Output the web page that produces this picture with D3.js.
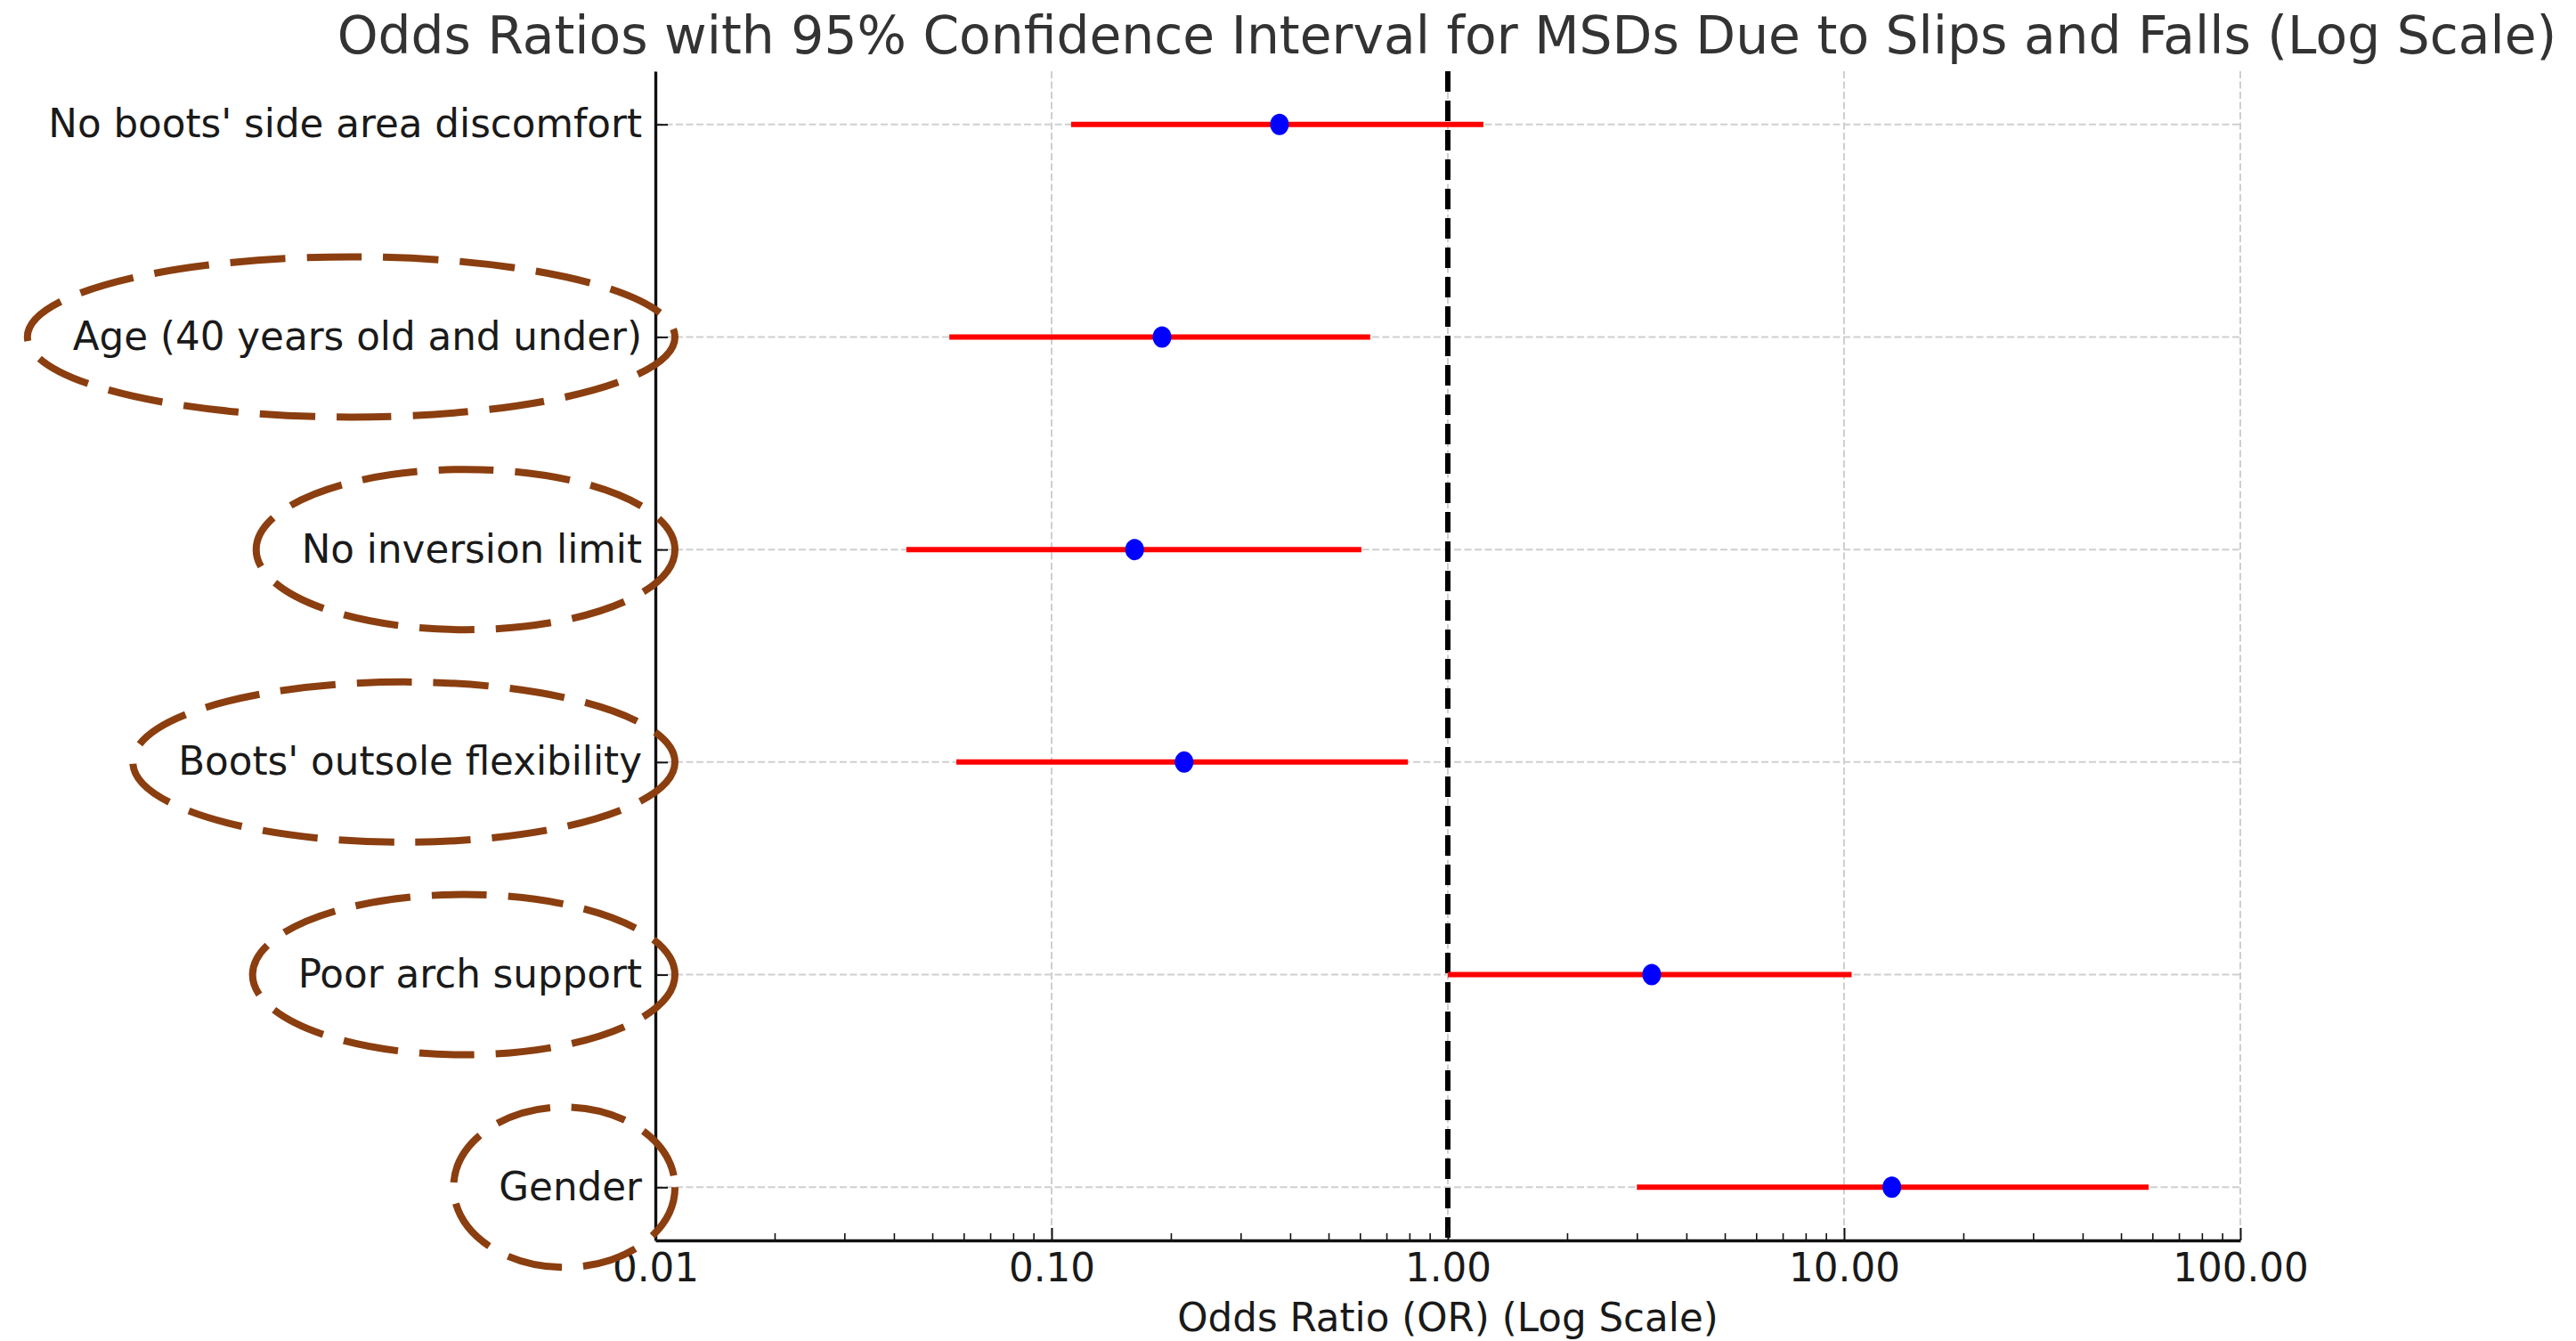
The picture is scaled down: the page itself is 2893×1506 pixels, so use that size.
<!DOCTYPE html>
<html>
<head>
<meta charset="utf-8">
<script src="https://cdn.jsdelivr.net/npm/d3@7"></script>
<style>
    body { margin: 0; background: #fff; }
    svg { display: block; font-family: "DejaVu Sans", sans-serif; }
</style>
</head>
<body>
<svg id="chart" width="2893" height="1506"></svg>
<script>
// factors, bottom row first
const factors = [
    "Gender",
    "Poor arch support",
    "Boots' outsole flexibility",
    "No inversion limit",
    "Age (40 years old and under)",
    "No boots' side area discomfort"
];
const oddsRatios = [13.2, 3.27, 0.216, 0.162, 0.190, 0.376];
const ciLower = [3.0, 1.0, 0.0575, 0.043, 0.0552, 0.112];
const ciUpper = [58.7, 10.45, 0.793, 0.605, 0.637, 1.23];

const xTicks = [0.01, 0.1, 1, 10, 100];
// factors circled on the figure
const circled = ["Gender", "Poor arch support", "Boots' outsole flexibility", "No inversion limit", "Age (40 years old and under)"];

const svg = d3.select("#chart");
const W = +svg.attr("width"), H = +svg.attr("height");
const margin = {top: 80, right: 377, bottom: 113, left: 736};
const width = W - margin.left - margin.right,
      height = H - margin.top - margin.bottom;

svg.append("rect").attr("width", W).attr("height", H).attr("fill", "#fff");

const g = svg.append("g").attr("transform", `translate(${margin.left},${margin.top})`);

const x = d3.scaleLog().domain([0.01, 100]).range([0, width]);
const y = d3.scalePoint().domain(factors).range([height, 0]).padding(0.25);

// minor tick values 2..9 per decade
const minorTicks = [];
for (let p = -2; p < 2; p++) for (let k = 2; k <= 9; k++) minorTicks.push(k * Math.pow(10, p));

// grid
g.append("g").selectAll("line").data(xTicks).join("line")
    .attr("x1", d => x(d)).attr("x2", d => x(d))
    .attr("y1", 0).attr("y2", height)
    .attr("stroke", "#cfcfcf").attr("stroke-width", 2).attr("stroke-dasharray", "8,3.5");
g.append("g").selectAll("line").data(factors).join("line")
    .attr("x1", 0).attr("x2", width)
    .attr("y1", d => y(d)).attr("y2", d => y(d))
    .attr("stroke", "#cfcfcf").attr("stroke-width", 2).attr("stroke-dasharray", "8,3.5");

// OR = 1 reference
g.append("line")
    .attr("x1", x(1)).attr("x2", x(1))
    .attr("y1", 0).attr("y2", height)
    .attr("stroke", "#000").attr("stroke-width", 6).attr("stroke-dasharray", "23,10");

// confidence intervals
g.append("g").selectAll("line").data(factors).join("line")
    .attr("x1", (d, i) => x(ciLower[i])).attr("x2", (d, i) => x(ciUpper[i]))
    .attr("y1", d => y(d)).attr("y2", d => y(d))
    .attr("stroke", "red").attr("stroke-width", 6);

g.append("g").selectAll("ellipse").data(factors).join("ellipse")
    .attr("cx", (d, i) => x(oddsRatios[i])).attr("cy", d => y(d))
    .attr("rx", 10.5).attr("ry", 12)
    .attr("fill", "blue");

// axes
const styleAxis = sel => {
    sel.select(".domain").attr("stroke", "#111").attr("stroke-width", 3.4);
    sel.selectAll(".tick line").attr("stroke", "#111").attr("stroke-width", 2);
    sel.selectAll(".tick text").attr("fill", "#1a1a1a").attr("font-size", 43.6)
        .attr("font-family", "DejaVu Sans");
};

g.append("g")
    .attr("transform", `translate(0,${height})`)
    .call(d3.axisBottom(x).tickValues(minorTicks).tickSize(-8).tickSizeOuter(0).tickFormat(""))
    .call(sel => sel.select(".domain").remove())
    .call(sel => sel.selectAll(".tick line").attr("stroke", "#111").attr("stroke-width", 1.6));

g.append("g")
    .attr("transform", `translate(0,${height})`)
    .call(d3.axisBottom(x).tickValues(xTicks).tickSize(-14).tickSizeOuter(0)
        .tickPadding(15).tickFormat(d3.format(".2f")))
    .call(styleAxis);

const yAxis = g.append("g")
    .call(d3.axisLeft(y).tickSize(-14).tickSizeOuter(0).tickPadding(15))
    .call(styleAxis);

// titles
svg.append("text")
    .attr("x", margin.left + width / 2 - 1).attr("y", 60)
    .attr("text-anchor", "middle")
    .attr("font-size", 58.3).attr("fill", "#333")
    .text("Odds Ratios with 95% Confidence Interval for MSDs Due to Slips and Falls (Log Scale)");

svg.append("text")
    .attr("x", margin.left + width / 2).attr("y", 1495)
    .attr("text-anchor", "middle")
    .attr("font-size", 43.6).attr("fill", "#1a1a1a")
    .text("Odds Ratio (OR) (Log Scale)");

// dashed ellipses round the circled labels, sized from the label text
const ann = svg.append("g").attr("transform", `translate(${margin.left},${margin.top})`);
yAxis.selectAll(".tick").each(function(d) {
    if (!circled.includes(d)) return;
    const bb = d3.select(this).select("text").node().getBBox();
    ann.append("ellipse")
        .attr("cx", bb.x + bb.width / 2 - 7)
        .attr("cy", y(d))
        .attr("rx", bb.width / 2 + 44)
        .attr("ry", 90)
        .attr("fill", "none")
        .attr("stroke", "#8b3e0f")
        .attr("stroke-width", 8)
        .attr("stroke-dasharray", "62,24");
});
</script>
</body>
</html>
